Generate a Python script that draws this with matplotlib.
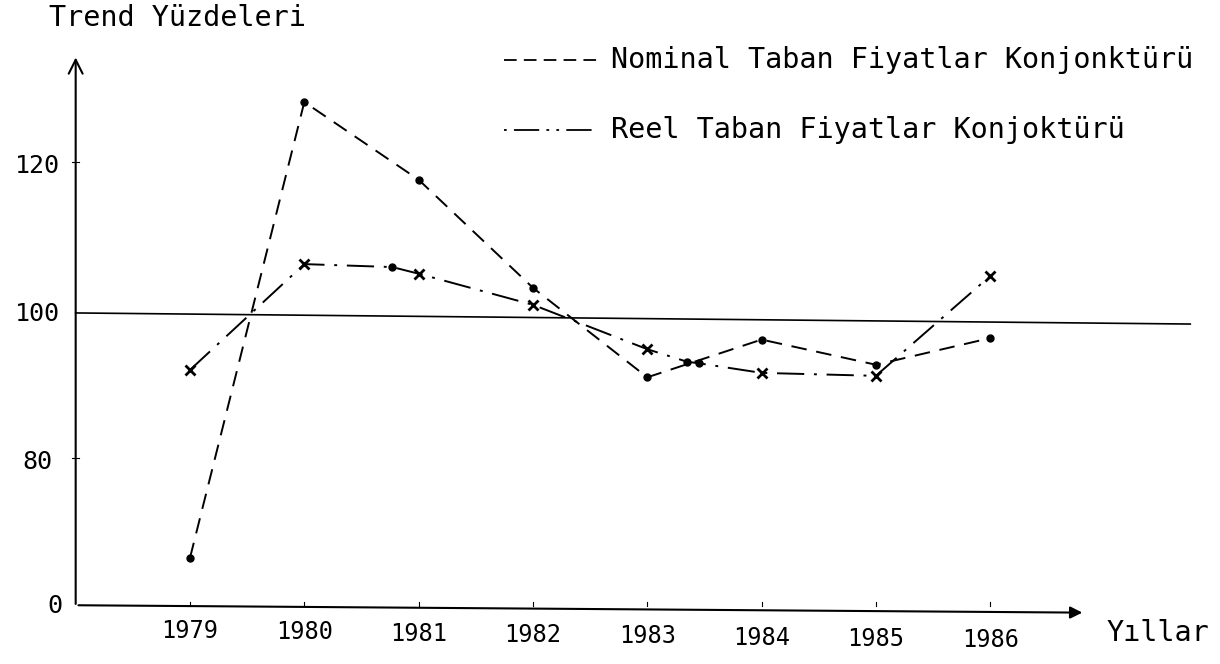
import matplotlib.pyplot as plt

# data
years = [1979, 1980, 1981, 1982, 1983, 1984, 1985, 1986]
year_labels = ['1979', '1980', '1981', '1982', '1983', '1984', '1985', '1986']
nominal = [66.5, 128.1, 117.6, 103.0, 90.9, 96.0, 92.6, 96.2]

real_x = [1979, 1980, 1980.77, 1981, 1982, 1983, 1983.35, 1983.45, 1984, 1985, 1986]
real = [91.9, 106.2, 105.8, 104.9, 100.7, 94.7, 93.0, 92.8, 91.5, 91.1, 104.6]
real_marks = [1979, 1980, 1981, 1982, 1983, 1984, 1985, 1986]
real_mark_vals = [91.9, 106.2, 104.9, 100.7, 94.7, 91.5, 91.1, 104.6]
real_dots_x = [1980.77, 1983.35, 1983.45]
real_dots = [105.8, 93.0, 92.8]

y_ticks = [120, 100, 80]
y_tick_labels = ['120', '100', '80']

# the 100 reference line (scan is slightly tilted)
ref_x = [1978.0, 1987.75]
ref_y = [99.6, 98.1]

mono = 'DejaVu Sans Mono'

fig = plt.figure(figsize=(12.2, 6.64), dpi=100)
ax = fig.add_axes([0, 0, 1, 1])
ax.set_xlim(1977.338, 1988.01)
ax.set_ylim(52.16, 141.89)
ax.axis('off')

# axes with arrows
ax.annotate('', xy=(1978.0, 134.5), xytext=(1978.0, 59.9),
            arrowprops=dict(arrowstyle='->', lw=1.5, color='black', mutation_scale=25))
ax.annotate('', xy=(1986.83, 59.1), xytext=(1978.0, 60.1),
            arrowprops=dict(arrowstyle='-|>', lw=1.5, color='black', mutation_scale=18))

ax.plot(ref_x, ref_y, color='black', lw=1.2)

# tiny tick marks
for yr in years:
    ax.plot([yr, yr], [60.0, 60.5], color='black', lw=0.8)
for v in [120, 80]:
    ax.plot([1977.97, 1978.03], [v, v], color='black', lw=0.8)

# series
ax.plot(years, nominal, color='black', lw=1.4, dashes=(8, 5))
ax.plot(years, nominal, 'o', color='black', ms=5)

ax.plot(real_x, real, color='black', lw=1.4, dashes=(14, 5, 1.5, 5))
ax.plot(real_marks, real_mark_vals, 'x', color='black', ms=7, mew=2)
ax.plot(real_dots_x, real_dots, 'o', color='black', ms=5)

# tick labels
for v, lab in zip(y_ticks, y_tick_labels):
    ax.text(1977.665, v - 0.6, lab, fontsize=18, family=mono, ha='center', va='center')
ax.text(1977.82, 60.0, '0', fontsize=18, family=mono, ha='center', va='center')
for i, (yr, lab) in enumerate(zip(years, year_labels)):
    ax.text(yr, 56.6 - i * 0.18, lab, fontsize=17, family=mono, ha='center', va='center')

ax.text(1977.77, 139.4, 'Trend Yüzdeleri', fontsize=20.5, family=mono, ha='left', va='center')
ax.text(1987.02, 56.3, 'Yıllar', fontsize=20.5, family=mono, ha='left', va='center')

# legend drawn by hand
ax.plot([1981.75, 1982.57], [133.8, 133.8], color='black', lw=1.3, dashes=(7, 4))
ax.text(1982.68, 133.8, 'Nominal Taban Fiyatlar Konjonktürü', fontsize=20.5,
        family=mono, ha='left', va='center')
ax.plot([1981.75, 1982.57], [124.3, 124.3], color='black', lw=1.3, dashes=(1.5, 4, 14, 4, 1.5, 4))
ax.text(1982.68, 124.3, 'Reel Taban Fiyatlar Konjoktürü', fontsize=20.5,
        family=mono, ha='left', va='center')

fig.savefig('out.png', dpi=100)
